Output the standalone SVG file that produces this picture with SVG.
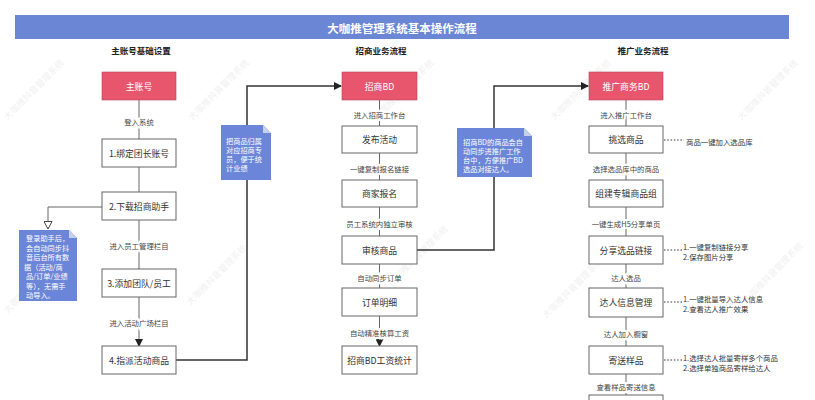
<svg xmlns="http://www.w3.org/2000/svg" width="815" height="400" viewBox="0 0 815 400">
<style>
text{font-family:"Noto Sans CJK SC","Liberation Sans",sans-serif;}
.wm{font-size:9px;fill:#f0f0f0;}
.title{font-size:11.5px;font-weight:bold;fill:#fff;}
.hd{font-size:8.5px;font-weight:bold;fill:#222;}
.box{fill:#fff;stroke:#666;stroke-width:1;}
.pink{fill:#e8566e;stroke:#b9445a;stroke-width:0.6;}
.bt{font-size:8.8px;fill:#333;}
.bw{font-size:8.8px;fill:#fff;}
.lbl{font-size:7.4px;fill:#444;paint-order:stroke;stroke:#fff;stroke-width:4px;}
.side{font-size:7.4px;fill:#333;}
.note{fill:#6b86d8;}
.fold{fill:#c5d0ee;}
.nt{font-size:7.2px;fill:#fff;}
.thin{stroke:#666;stroke-width:1;fill:none;}
.thick{stroke:#333;stroke-width:1.5;fill:none;}
.dot{stroke:#333;stroke-width:1.2;stroke-dasharray:1.5 1.8;fill:none;}
</style>
<defs>
<marker id="af" markerWidth="8" markerHeight="8" refX="7" refY="4" orient="auto" markerUnits="userSpaceOnUse">
<path d="M0,0 L8,4 L0,8 Z" fill="#222"/>
</marker>
<marker id="ao" markerWidth="9" markerHeight="9" refX="8" refY="4.5" orient="auto" markerUnits="userSpaceOnUse">
<path d="M0.5,0.5 L8,4.5 L0.5,8.5 Z" fill="#fff" stroke="#444" stroke-width="1"/>
</marker>
</defs>
<rect width="815" height="400" fill="#fff"/>
<g id="watermarks" text-anchor="middle">
<text class="wm" transform="translate(36,92) rotate(-45)">大咖推抖音管理系统</text>
<text class="wm" transform="translate(221,92) rotate(-45)">大咖推抖音管理系统</text>
<text class="wm" transform="translate(406,92) rotate(-45)">大咖推抖音管理系统</text>
<text class="wm" transform="translate(583,92) rotate(-45)">大咖推抖音管理系统</text>
<text class="wm" transform="translate(770,92) rotate(-45)">大咖推抖音管理系统</text>
<text class="wm" transform="translate(36,285) rotate(-45)">大咖推抖音管理系统</text>
<text class="wm" transform="translate(219,277) rotate(-45)">大咖推抖音管理系统</text>
<text class="wm" transform="translate(420,258) rotate(-45)">大咖推抖音管理系统</text>
<text class="wm" transform="translate(575,290) rotate(-45)">大咖推抖音管理系统</text>
<text class="wm" transform="translate(775,275) rotate(-45)">大咖推抖音管理系统</text>
</g>
<g id="title">
<rect x="15" y="15" width="774" height="24" fill="#6c86d6"/>
<text class="title" x="402" y="28" text-anchor="middle" dominant-baseline="central">大咖推管理系统基本操作流程</text>
</g>
<g id="headers" text-anchor="middle">
<text class="hd" x="141" y="50" dominant-baseline="central">主账号基础设置</text>
<text class="hd" x="381" y="50" dominant-baseline="central">招商业务流程</text>
<text class="hd" x="643" y="50" dominant-baseline="central">推广业务流程</text>
</g>
<g id="connectors">
<line class="thin" x1="139" y1="100" x2="139" y2="346" marker-end="url(#af)"/>
<line class="thin" x1="379.5" y1="100" x2="379.5" y2="346" marker-end="url(#af)"/>
<line class="thin" x1="626" y1="100" x2="626" y2="400"/>
<polyline class="thin" points="102,207 48,207 48,229" marker-end="url(#ao)"/>
<polyline class="thick" points="176,360 247,360 247,86 341,86" marker-end="url(#af)"/>
<polyline class="thick" points="417,250 494,250 494,86 588,86" marker-end="url(#af)"/>
<line class="dot" x1="664" y1="140" x2="684" y2="140"/>
<line class="dot" x1="664" y1="250" x2="682" y2="250"/>
<line class="dot" x1="664" y1="302" x2="682" y2="302"/>
<line class="dot" x1="664" y1="360" x2="682" y2="360"/>
</g>
<g id="labels" text-anchor="middle">
<text class="lbl" x="139" y="121" dominant-baseline="central">登入系统</text>
<text class="lbl" x="139" y="245" dominant-baseline="central">进入员工管理栏目</text>
<text class="lbl" x="139" y="322" dominant-baseline="central">进入活动广场栏目</text>
<text class="lbl" x="379.5" y="114" dominant-baseline="central">进入招商工作台</text>
<text class="lbl" x="379.5" y="168" dominant-baseline="central">一键复制报名链接</text>
<text class="lbl" x="379.5" y="223" dominant-baseline="central">员工系统内独立审核</text>
<text class="lbl" x="379.5" y="277" dominant-baseline="central">自动同步订单</text>
<text class="lbl" x="379.5" y="332" dominant-baseline="central">自动精准核算工资</text>
<text class="lbl" x="626" y="114" dominant-baseline="central">进入推广工作台</text>
<text class="lbl" x="626" y="168" dominant-baseline="central">选择选品库中的商品</text>
<text class="lbl" x="626" y="223" dominant-baseline="central">一键生成H5分享单页</text>
<text class="lbl" x="626" y="277" dominant-baseline="central">达人选品</text>
<text class="lbl" x="626" y="333" dominant-baseline="central">达人加入橱窗</text>
<text class="lbl" x="626" y="386" dominant-baseline="central">查看样品寄送信息</text>
</g>
<g id="side-notes" class="side">
<text x="686" y="141" dominant-baseline="central">商品一键加入选品库</text>
<text x="683" y="246" dominant-baseline="central">1.一键复制链接分享</text>
<text x="683" y="256" dominant-baseline="central">2.保存图片分享</text>
<text x="683" y="298" dominant-baseline="central">1.一键批量导入达人信息</text>
<text x="683" y="308" dominant-baseline="central">2.查看达人推广效果</text>
<text x="683" y="357" dominant-baseline="central">1.选择达人批量寄样多个商品</text>
<text x="683" y="367" dominant-baseline="central">2.选择单独商品寄样给达人</text>
</g>
<g id="n-main" text-anchor="middle">
<rect class="pink" x="102" y="72" width="74" height="28"/>
<text class="bw" x="139" y="86" dominant-baseline="central">主账号</text>
</g>
<g id="n-1" text-anchor="middle">
<rect class="box" x="102" y="139" width="74" height="28"/>
<text class="bt" x="139" y="153" dominant-baseline="central">1.绑定团长账号</text>
</g>
<g id="n-2" text-anchor="middle">
<rect class="box" x="102" y="192" width="74" height="28"/>
<text class="bt" x="139" y="206" dominant-baseline="central">2.下载招商助手</text>
</g>
<g id="n-3" text-anchor="middle">
<rect class="box" x="102" y="269" width="74" height="28"/>
<text class="bt" x="139" y="283" dominant-baseline="central">3.添加团队/员工</text>
</g>
<g id="n-4" text-anchor="middle">
<rect class="box" x="102" y="346" width="74" height="28"/>
<text class="bt" x="139" y="360" dominant-baseline="central">4.指派活动商品</text>
</g>
<g id="note-1">
<path class="note" d="M19,230 H69 L77,238 V301 H19 Z"/>
<path class="fold" d="M69,230 L77,238 H69 Z"/>
<text class="nt" x="26" y="238" dominant-baseline="central">登录助手后，</text>
<text class="nt" x="26" y="247.5" dominant-baseline="central">会自动同步抖</text>
<text class="nt" x="26" y="257" dominant-baseline="central">音后台所有数</text>
<text class="nt" x="24" y="266.5" dominant-baseline="central">据（活动/商</text>
<text class="nt" x="26" y="276" dominant-baseline="central">品/订单/业绩</text>
<text class="nt" x="26" y="285.5" dominant-baseline="central">等），无需手</text>
<text class="nt" x="26" y="295" dominant-baseline="central">动导入。</text>
</g>
<g id="note-2">
<path class="note" d="M221,125 H263 L271,133 V180 H221 Z"/>
<path class="fold" d="M263,125 L271,133 H263 Z"/>
<text class="nt" x="226" y="141" dominant-baseline="central">把商品归属</text>
<text class="nt" x="226" y="150" dominant-baseline="central">对应招商专</text>
<text class="nt" x="226" y="159" dominant-baseline="central">员，便于统</text>
<text class="nt" x="226" y="168" dominant-baseline="central">计业绩</text>
</g>
<g id="n-zs" text-anchor="middle">
<rect class="pink" x="342" y="72" width="75" height="28"/>
<text class="bw" x="379.5" y="86" dominant-baseline="central">招商BD</text>
</g>
<g id="n-fb" text-anchor="middle">
<rect class="box" x="342" y="126" width="75" height="27"/>
<text class="bt" x="379.5" y="139.5" dominant-baseline="central">发布活动</text>
</g>
<g id="n-sj" text-anchor="middle">
<rect class="box" x="342" y="180" width="75" height="27"/>
<text class="bt" x="379.5" y="193.5" dominant-baseline="central">商家报名</text>
</g>
<g id="n-sh" text-anchor="middle">
<rect class="box" x="342" y="236" width="75" height="28"/>
<text class="bt" x="379.5" y="250" dominant-baseline="central">审核商品</text>
</g>
<g id="n-dd" text-anchor="middle">
<rect class="box" x="342" y="288" width="75" height="28"/>
<text class="bt" x="379.5" y="302" dominant-baseline="central">订单明细</text>
</g>
<g id="n-gz" text-anchor="middle">
<rect class="box" x="342" y="346" width="75" height="28"/>
<text class="bt" x="379.5" y="360" dominant-baseline="central">招商BD工资统计</text>
</g>
<g id="note-3">
<path class="note" d="M457,128 H524 L532,136 V177 H457 Z"/>
<path class="fold" d="M524,128 L532,136 H524 Z"/>
<text class="nt" x="463" y="142" dominant-baseline="central">招商BD的商品会自</text>
<text class="nt" x="463" y="151" dominant-baseline="central">动同步进推广工作</text>
<text class="nt" x="463" y="160" dominant-baseline="central">台中，方便推广BD</text>
<text class="nt" x="463" y="169" dominant-baseline="central">选品对接达人。</text>
</g>
<g id="n-tg" text-anchor="middle">
<rect class="pink" x="589" y="72" width="74" height="28"/>
<text class="bw" x="626" y="86" dominant-baseline="central">推广商务BD</text>
</g>
<g id="n-tx" text-anchor="middle">
<rect class="box" x="589" y="126" width="74" height="27"/>
<text class="bt" x="626" y="139.5" dominant-baseline="central">挑选商品</text>
</g>
<g id="n-zj" text-anchor="middle">
<rect class="box" x="589" y="180" width="74" height="27"/>
<text class="bt" x="626" y="193.5" dominant-baseline="central">组建专辑商品组</text>
</g>
<g id="n-fx" text-anchor="middle">
<rect class="box" x="589" y="236" width="74" height="28"/>
<text class="bt" x="626" y="250" dominant-baseline="central">分享选品链接</text>
</g>
<g id="n-dr" text-anchor="middle">
<rect class="box" x="589" y="288" width="74" height="29"/>
<text class="bt" x="626" y="302.5" dominant-baseline="central">达人信息管理</text>
</g>
<g id="n-jy" text-anchor="middle">
<rect class="box" x="589" y="346" width="74" height="28"/>
<text class="bt" x="626" y="360" dominant-baseline="central">寄送样品</text>
</g>
<g id="n-last">
<rect class="box" x="589" y="395" width="74" height="28"/>
</g>
</svg>
